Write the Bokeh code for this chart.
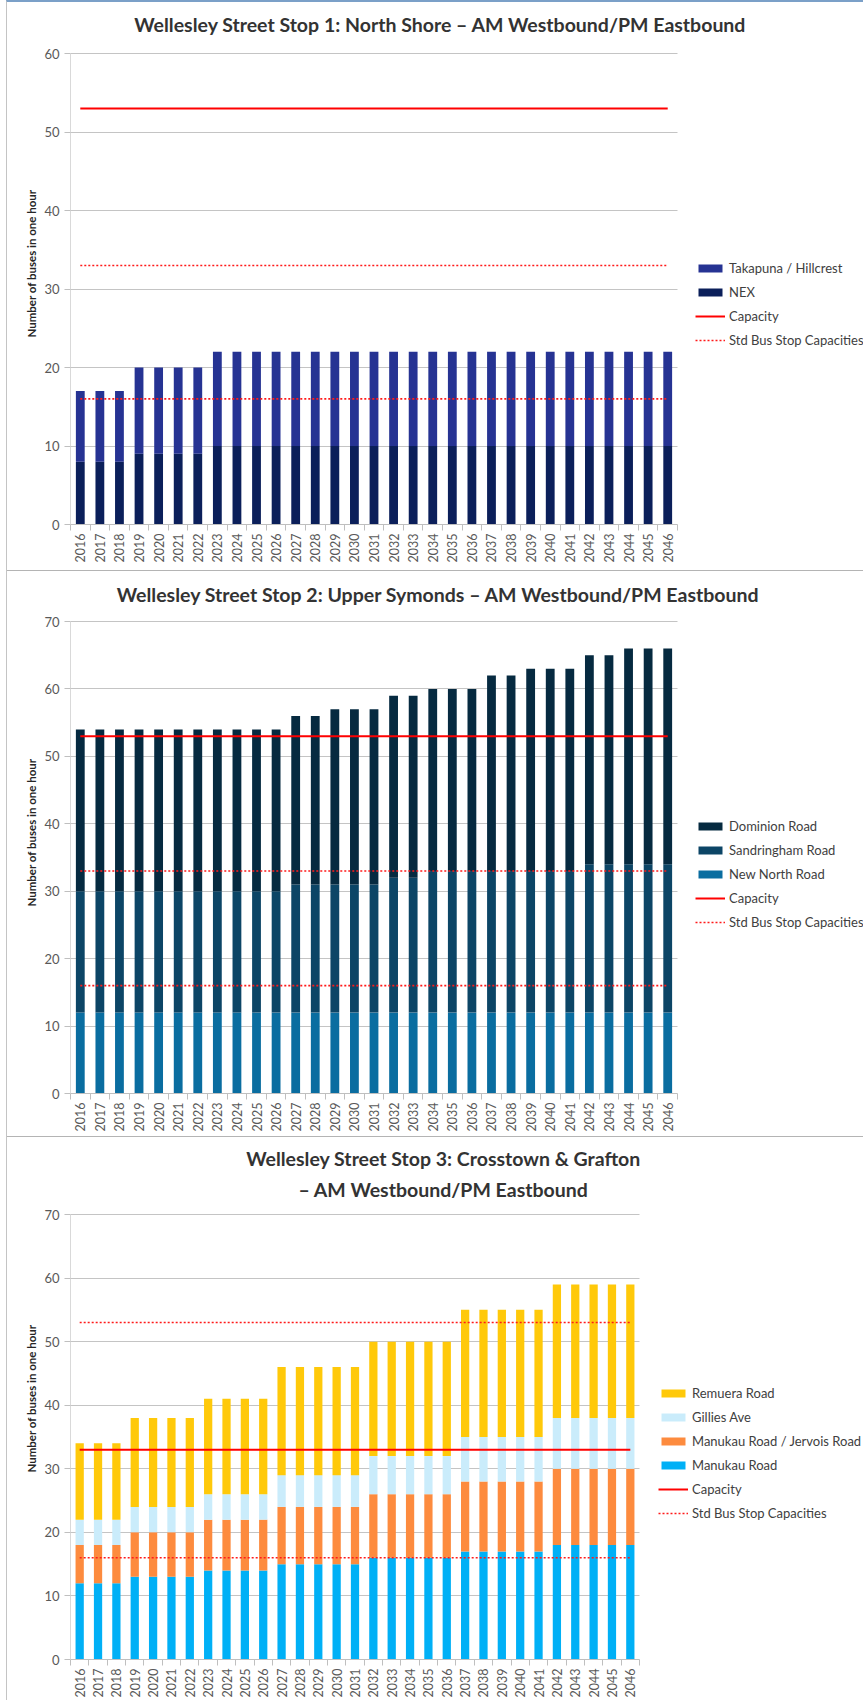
import math

from bokeh.embed import file_html
from bokeh.layouts import column
from bokeh.models import (ColumnDataSource, FixedTicker, Grid, Label, Legend,
                          LegendItem, Range1d)
from bokeh.plotting import figure
from bokeh.resources import INLINE

FONT = "Lato"

years = [2016, 2017, 2018, 2019, 2020, 2021, 2022, 2023, 2024, 2025, 2026,
         2027, 2028, 2029, 2030, 2031, 2032, 2033, 2034, 2035, 2036, 2037,
         2038, 2039, 2040, 2041, 2042, 2043, 2044, 2045, 2046]

# ---- Stop 1: North Shore ----
stop1_title = "Wellesley Street Stop 1: North Shore \u2013 AM Westbound/PM Eastbound"
nex = [8, 8, 8, 9, 9, 9, 9, 10, 10, 10, 10, 10, 10, 10, 10, 10, 10, 10, 10, 10,
       10, 10, 10, 10, 10, 10, 10, 10, 10, 10, 10]
takapuna = [9, 9, 9, 11, 11, 11, 11, 12, 12, 12, 12, 12, 12, 12, 12, 12, 12, 12,
            12, 12, 12, 12, 12, 12, 12, 12, 12, 12, 12, 12, 12]
stop1_capacity = 53
stop1_std = [16, 33]

# ---- Stop 2: Upper Symonds ----
stop2_title = "Wellesley Street Stop 2: Upper Symonds \u2013 AM Westbound/PM Eastbound"
new_north = [12, 12, 12, 12, 12, 12, 12, 12, 12, 12, 12, 12, 12, 12, 12, 12,
             12, 12, 12, 12, 12, 12, 12, 12, 12, 12, 12, 12, 12, 12, 12]
sandringham = [18, 18, 18, 18, 18, 18, 18, 18, 18, 18, 18, 19, 19, 19, 19, 19,
               20, 20, 21, 21, 21, 21, 21, 21, 21, 21, 22, 22, 22, 22, 22]
dominion = [24, 24, 24, 24, 24, 24, 24, 24, 24, 24, 24, 25, 25, 26, 26, 26,
            27, 27, 27, 27, 27, 29, 29, 30, 30, 30, 31, 31, 32, 32, 32]
stop2_capacity = 53
stop2_std = [16, 33]

# ---- Stop 3: Crosstown & Grafton ----
stop3_title = "Wellesley Street Stop 3: Crosstown & Grafton\n\u2013 AM Westbound/PM Eastbound"
manukau = [12, 12, 12, 13, 13, 13, 13, 14, 14, 14, 14, 15, 15, 15, 15, 15,
           16, 16, 16, 16, 16, 17, 17, 17, 17, 17, 18, 18, 18, 18, 18]
jervois = [6, 6, 6, 7, 7, 7, 7, 8, 8, 8, 8, 9, 9, 9, 9, 9,
           10, 10, 10, 10, 10, 11, 11, 11, 11, 11, 12, 12, 12, 12, 12]
gillies = [4, 4, 4, 4, 4, 4, 4, 4, 4, 4, 4, 5, 5, 5, 5, 5,
           6, 6, 6, 6, 6, 7, 7, 7, 7, 7, 8, 8, 8, 8, 8]
remuera = [12, 12, 12, 14, 14, 14, 14, 15, 15, 15, 15, 17, 17, 17, 17, 17,
           18, 18, 18, 18, 18, 20, 20, 20, 20, 20, 21, 21, 21, 21, 21]
stop3_capacity = 33
stop3_std = [16, 53]

FIG_W = 856
LEFT = 63
FRAME_W = FIG_W - LEFT   # the frame runs to the right edge; legend and title sit inside it


def make_panel(title, series, labels, colors, capacity, std_levels, y_max,
               chart_w, chart_h, fig_h, b_bottom, legend_loc, title_loc,
               title_line_height=1.2):
    # chart_w / chart_h: pixel size of the area holding the bars (years x 0..y_max)
    x0, x1 = years[0] - 0.5, years[-1] + 0.5
    px_per_year = chart_w / len(years)
    px_per_unit = chart_h / y_max
    frame_h = fig_h - b_bottom
    p = figure(width=FIG_W, height=fig_h,
               x_range=Range1d(x0, x0 + FRAME_W / px_per_year),
               y_range=Range1d(0, frame_h / px_per_unit),
               output_backend="svg", toolbar_location=None,
               min_border_left=LEFT, min_border_right=0,
               min_border_top=0, min_border_bottom=b_bottom)
    p.outline_line_color = None
    p.background_fill_color = "white"
    p.border_fill_color = "white"

    data = {"year": years}
    keys = []
    for i, s in enumerate(series):
        k = f"s{i}"
        data[k] = s
        keys.append(k)
    src = ColumnDataSource(data)
    bars = p.vbar_stack(keys, x="year", width=0.45, source=src,
                        fill_color=colors, line_color=None)

    cap_r = p.segment(x0=[years[0]], x1=[years[-1]], y0=[capacity], y1=[capacity],
                      line_color="#ff0000", line_width=2)
    std_r = p.segment(x0=[years[0]] * len(std_levels), x1=[years[-1]] * len(std_levels),
                      y0=std_levels, y1=std_levels,
                      line_color="#ff1a1a", line_width=1.6, line_dash="2 2")

    y_ticks = list(range(0, y_max + 1, 10))

    # axes
    xa = p.xaxis[0]
    xa.bounds = (x0, x1)
    xa.ticker = FixedTicker(ticks=years,
                            minor_ticks=[y - 0.5 for y in years] + [x1])
    xa.axis_line_color = "#bfbfbf"
    xa.major_tick_line_color = None
    xa.major_tick_out = 6
    xa.minor_tick_line_color = "#bfbfbf"
    xa.minor_tick_out = 6
    xa.minor_tick_in = 0
    xa.major_label_orientation = math.pi / 2
    xa.major_label_standoff = 3
    xa.major_label_text_font = FONT
    xa.major_label_text_font_size = "12.5px"
    xa.major_label_text_color = "#595959"

    ya = p.yaxis[0]
    ya.bounds = (0, y_max)
    ya.ticker = FixedTicker(ticks=y_ticks, minor_ticks=[])
    ya.axis_line_color = "#d9d9d9"
    ya.major_tick_line_color = "#bfbfbf"
    ya.major_tick_out = 6
    ya.major_tick_in = 0
    ya.minor_tick_line_color = None
    ya.major_label_standoff = 5
    ya.major_label_text_font = FONT
    ya.major_label_text_font_size = "13px"
    ya.major_label_text_color = "#595959"
    ya.axis_label = "Number of buses in one hour"
    ya.axis_label_text_font = FONT
    ya.axis_label_text_font_style = "bold"
    ya.axis_label_text_font_size = "11.5px"
    ya.axis_label_text_color = "#262626"
    ya.axis_label_standoff = 3

    p.xgrid.visible = False
    if "cross_bounds" in Grid.properties():
        p.ygrid.grid_line_color = "#c4c4c4"
        p.ygrid.cross_bounds = (x0, x1)
    else:
        p.ygrid.visible = False
        p.segment(x0=[x0] * len(y_ticks), x1=[x1] * len(y_ticks),
                  y0=y_ticks, y1=y_ticks, line_color="#c4c4c4", line_width=1,
                  level="underlay")

    items = [LegendItem(label=lab, renderers=[r])
             for lab, r in zip(labels[::-1], bars[::-1])]
    items.append(LegendItem(label="Capacity", renderers=[cap_r]))
    items.append(LegendItem(label="Std Bus Stop Capacities", renderers=[std_r]))
    legend = Legend(items=items, location=legend_loc, orientation="vertical",
                    glyph_width=30, glyph_height=10, label_height=16,
                    spacing=8, padding=0, margin=0, label_standoff=4,
                    label_text_font=FONT, label_text_font_size="13px",
                    label_text_color="#404040", border_line_color=None,
                    background_fill_alpha=0)
    p.add_layout(legend)

    p.add_layout(Label(x=title_loc[0], y=title_loc[1], x_units="screen",
                       y_units="screen", text=title, text_align="center",
                       text_baseline="middle", text_font=FONT,
                       text_font_style="bold", text_font_size="19.5px",
                       text_color="#333333", text_line_height=title_line_height))
    return p


p1 = make_panel(stop1_title, [nex, takapuna], ["NEX", "Takapuna / Hillcrest"],
                ["#0b1f5a", "#263393"], stop1_capacity, stop1_std, 60,
                chart_w=607, chart_h=471, fig_h=568, b_bottom=46,
                legend_loc=(625, 176), title_loc=(370, 500))

p2 = make_panel(stop2_title, [new_north, sandringham, dominion],
                ["New North Road", "Sandringham Road", "Dominion Road"],
                ["#0a6da0", "#0c4566", "#062a40"], stop2_capacity, stop2_std, 70,
                chart_w=607, chart_h=472, fig_h=566, b_bottom=44,
                legend_loc=(625, 163), title_loc=(368, 499))
p2.styles = {"border-top": "1px solid #b4b4b4"}

p3 = make_panel(stop3_title, [manukau, jervois, gillies, remuera],
                ["Manukau Road", "Manukau Road / Jervois Road", "Gillies Ave",
                 "Remuera Road"],
                ["#00b0f6", "#fd8b3e", "#caecfb", "#ffc90a"], stop3_capacity,
                stop3_std, 70,
                chart_w=569, chart_h=445, fig_h=564, b_bottom=42,
                legend_loc=(588, 138), title_loc=(373, 485.5),
                title_line_height=1.33)
p3.styles = {"border-top": "1px solid #b4b4b4"}

page = column(p1, p2, p3,
              styles={"margin-left": "6px", "border-left": "1px solid #c4c4c4",
                      "border-top": "2px solid #7ba0c8"})

with open("out.html", "w") as f:
    f.write(file_html(page, INLINE, title="Wellesley Street bus stops"))
